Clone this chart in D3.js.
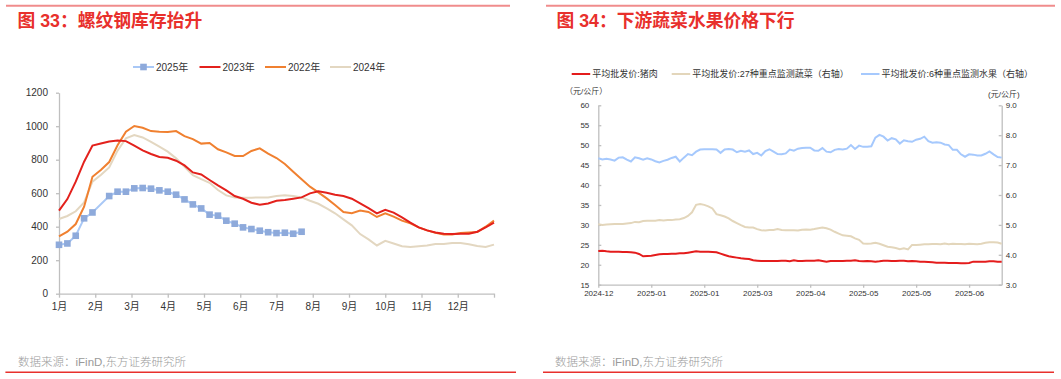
<!DOCTYPE html>
<html><head><meta charset="utf-8">
<script src="https://cdn.jsdelivr.net/npm/d3@7"></script>
<style>
body{margin:0;background:#fff;}
svg{display:block;font-family:"Liberation Sans","Noto Sans CJK SC",sans-serif;}
</style></head><body>
<svg id="c" width="1061" height="379"></svg>
<script>
// 左图：螺纹钢库存（按周，0-52周）
const months = ['1月','2月','3月','4月','5月','6月','7月','8月','9月','10月','11月','12月'];
const s2025 = [292,300,346,450,485,null,583,609,609,629,631,627,617,609,591,563,533,509,472,466,436,418,396,386,376,367,362,364,358,370];
const s2023 = [496,565,669,788,884,897,909,915,911,884,856,834,816,812,794,766,724,712,679,647,617,583,567,543,531,539,555,559,567,575,599,611,603,591,583,567,539,511,480,501,484,456,424,396,378,366,358,356,358,358,370,396,424];
const s2022 = [342,370,416,519,698,738,786,886,967,1001,991,971,967,965,971,941,923,896,900,862,844,822,822,852,868,836,810,774,728,683,639,605,569,529,488,480,496,488,458,480,460,436,420,396,378,364,354,354,362,366,368,400,436];
const s2024 = [446,464,492,545,669,708,754,854,927,947,933,907,878,848,808,758,708,684,662,619,587,575,573,573,575,575,583,587,583,575,555,537,509,480,444,408,356,324,288,316,300,283,279,283,288,297,297,302,302,295,285,279,293];

// 右图：日度价格
const dateLabels = ['2024-12','2025-01','2025-01','2025-03','2025-04','2025-05','2025-05','2025-06'];
const pork = [23.46,23.54,23.37,23.29,23.29,23.29,23.21,23.21,23.12,23.04,
  22.71,22.12,22.20,22.29,22.45,22.62,22.71,22.71,22.79,22.79,
  22.87,22.87,23.04,23.21,23.37,23.29,23.29,23.29,23.21,23.12,
  22.79,22.45,22.12,21.95,21.79,21.62,21.53,21.45,21.12,21.03,
  20.95,20.95,20.95,20.95,20.95,21.03,21.03,20.87,21.12,20.95,
  20.95,21.03,21.03,21.03,21.12,20.95,20.78,20.95,20.95,20.95,
  20.95,21.03,21.03,21.12,20.95,20.87,20.95,20.87,20.78,20.87,
  21.03,21.03,20.95,20.95,21.03,21.03,20.87,20.95,20.87,20.78,
  20.78,20.70,20.62,20.53,20.53,20.53,20.45,20.45,20.45,20.37,
  20.37,20.45,20.78,20.78,20.78,20.78,20.87,20.87,20.78,20.78];
const veg = [5.02,5.00,5.01,5.02,5.03,5.03,5.03,5.05,5.06,5.10,
  5.09,5.13,5.14,5.14,5.14,5.16,5.15,5.16,5.16,5.18,
  5.19,5.23,5.30,5.42,5.67,5.70,5.67,5.62,5.55,5.36,
  5.32,5.28,5.22,5.13,5.06,4.99,4.93,4.91,4.91,4.86,
  4.82,4.81,4.83,4.83,4.86,4.83,4.82,4.82,4.82,4.81,
  4.84,4.85,4.84,4.86,4.89,4.91,4.89,4.84,4.77,4.71,
  4.65,4.64,4.62,4.55,4.50,4.38,4.37,4.38,4.40,4.37,
  4.32,4.27,4.25,4.23,4.19,4.22,4.18,4.33,4.33,4.34,
  4.35,4.35,4.36,4.36,4.35,4.38,4.35,4.37,4.36,4.36,
  4.35,4.37,4.36,4.35,4.37,4.40,4.42,4.42,4.41,4.37];
const fruit = [7.23,7.19,7.21,7.19,7.15,7.25,7.26,7.18,7.12,7.26,
  7.23,7.18,7.23,7.19,7.13,7.09,7.14,7.18,7.24,7.28,
  7.12,7.25,7.37,7.33,7.45,7.52,7.53,7.53,7.53,7.52,
  7.41,7.52,7.54,7.52,7.43,7.48,7.45,7.49,7.37,7.41,
  7.32,7.47,7.53,7.45,7.37,7.36,7.39,7.52,7.48,7.55,
  7.57,7.58,7.58,7.49,7.48,7.57,7.45,7.43,7.51,7.54,
  7.52,7.55,7.67,7.54,7.65,7.61,7.61,7.63,7.92,8.01,
  7.95,7.82,7.90,7.86,7.72,7.83,7.80,7.78,7.85,7.88,
  7.95,7.80,7.75,7.76,7.75,7.69,7.67,7.51,7.51,7.36,
  7.28,7.36,7.35,7.32,7.32,7.38,7.46,7.36,7.27,7.25];

const svg = d3.select('#c');
svg.append('rect').attr('width',1061).attr('height',379).attr('fill','#fff');

function styleAxis(g, fs) {
  g.attr('font-family', null).attr('font-size', fs);
  g.select('.domain').attr('stroke', '#bfbfbf').attr('stroke-width', 1.3);
  g.selectAll('.tick line').attr('stroke', '#bfbfbf').attr('stroke-width', 1.3);
  g.selectAll('.tick text').attr('fill', '#333');
}

// 标题、上下分隔线、数据来源
[[6, 510, 17.5, '图 33：螺纹钢库存抬升', 18, 5.4, 516], [546, 1055, 556.5, '图 34：下游蔬菜水果价格下行', 555, 543, 1054]]
  .forEach(([l0, l1, tx, title, fx, b0, b1]) => {
    svg.append('line').attr('x1', l0).attr('x2', l1).attr('y1', 5.7).attr('y2', 5.7)
      .attr('stroke', '#f08c8c').attr('stroke-width', 2);
    svg.append('text').attr('x', tx).attr('y', 26.5).attr('fill', '#e8302c')
      .attr('font-size', 17.8).attr('font-weight', 700).text(title);
    svg.append('text').attr('x', fx).attr('y', 366).attr('fill', '#9a9a9a')
      .attr('font-size', 11.5).attr('font-weight', 300).text('数据来源：iFinD,东方证券研究所');
    svg.append('line').attr('x1', b0).attr('x2', b1).attr('y1', 372.3).attr('y2', 372.3)
      .attr('stroke', '#e8302c').attr('stroke-width', 1.5);
  });

// ---------- 左图 ----------
const xL = d3.scaleLinear().domain([0, 52]).range([59, 494]);
const yL = d3.scaleLinear().domain([0, 1200]).range([293.7, 92.7]);

svg.append('g').attr('transform', 'translate(0,293.7)')
  .call(d3.axisBottom(xL).tickValues(d3.range(13).map(k => k * 52 / 12))
    .tickFormat((d, i) => months[i] || '').tickSize(4).tickSizeOuter(0).tickPadding(5))
  .call(g => styleAxis(g, 10));
svg.append('g').attr('transform', 'translate(59,0)')
  .call(d3.axisLeft(yL).tickValues(d3.range(0, 1201, 200)).tickFormat(d3.format('d'))
    .tickSize(3).tickSizeOuter(0).tickPadding(8))
  .call(g => styleAxis(g, 10));

const lineL = d3.line().x(d => xL(d[0])).y(d => yL(d[1])).curve(d3.curveLinear);
const pts = arr => arr.map((v, i) => [i, v]).filter(d => d[1] != null);

const leftSeries = [
  { name: '2024年', data: s2024, color: '#e3d7c1' },
  { name: '2022年', data: s2022, color: '#f08030' },
  { name: '2023年', data: s2023, color: '#e3211c' },
  { name: '2025年', data: s2025, color: '#a9c8f6' }
];
leftSeries.forEach(s => {
  svg.append('path').datum(pts(s.data)).attr('d', lineL)
    .attr('fill', 'none').attr('stroke', s.color).attr('stroke-width', 2);
});
svg.append('g').selectAll('rect').data(pts(s2025)).join('rect')
  .attr('x', d => xL(d[0]) - 3.3).attr('y', d => yL(d[1]) - 3.3)
  .attr('width', 6.6).attr('height', 6.6).attr('fill', '#8eaadb');

// 左图图例
const legL = [
  { name: '2025年', color: '#a9c8f6', x: 133, marker: true },
  { name: '2023年', color: '#e3211c', x: 199.5 },
  { name: '2022年', color: '#f08030', x: 265 },
  { name: '2024年', color: '#e3d7c1', x: 330 }
];
legL.forEach(d => {
  svg.append('line').attr('x1', d.x).attr('x2', d.x + 21).attr('y1', 67).attr('y2', 67)
    .attr('stroke', d.color).attr('stroke-width', 2);
  if (d.marker) svg.append('rect').attr('x', d.x + 7.2).attr('y', 63.7).attr('width', 6.6).attr('height', 6.6).attr('fill', '#8eaadb');
  svg.append('text').attr('x', d.x + 23).attr('y', 70.5).attr('font-size', 10).attr('fill', '#333').text(d.name);
});

// ---------- 右图 ----------
const xR = d3.scaleLinear().domain([0, 99]).range([598.3, 1001.7]);
const yRL = d3.scaleLinear().domain([15, 60]).range([284.7, 105.3]);
const yRR = d3.scaleLinear().domain([3, 9]).range([284.7, 105.3]);

svg.append('g').attr('transform', 'translate(0,284.7)')
  .call(d3.axisBottom(xR).tickValues(d3.range(0, 99, 13)).tickFormat((d, i) => dateLabels[i])
    .tickSize(3).tickSizeOuter(0).tickPadding(3))
  .call(g => styleAxis(g, 8));
svg.append('g').attr('transform', 'translate(598.3,0)')
  .call(d3.axisLeft(yRL).tickValues(d3.range(15, 61, 5)).tickSize(-3).tickSizeOuter(0).tickPadding(9))
  .call(g => styleAxis(g, 8));
svg.append('g').attr('transform', 'translate(1001.7,0)')
  .call(d3.axisRight(yRR).tickValues(d3.range(3, 9.01, 1)).tickFormat(d3.format('.1f'))
    .tickSize(-3).tickSizeOuter(0).tickPadding(4))
  .call(g => styleAxis(g, 8));

svg.append('text').attr('x', 565).attr('y', 94).attr('font-size', 8).attr('fill', '#333').text('（元/公斤）');
svg.append('text').attr('x', 988).attr('y', 97).attr('font-size', 8).attr('fill', '#333').text('(元/公斤)');

const rightSeries = [
  { data: fruit, y: yRR, color: '#a6c9fd' },
  { data: veg, y: yRR, color: '#e3d6bb' },
  { data: pork, y: yRL, color: '#e41c1c' }
];
rightSeries.forEach(s => {
  svg.append('path').datum(s.data)
    .attr('d', d3.line().x((d, i) => xR(i)).y(d => s.y(d)))
    .attr('fill', 'none').attr('stroke', s.color).attr('stroke-width', 2);
});

// 右图图例
const legR = [
  { name: '平均批发价:猪肉', color: '#e41c1c', x: 571.7 },
  { name: '平均批发价:27种重点监测蔬菜（右轴）', color: '#e3d6bb', x: 671.7 },
  { name: '平均批发价:6种重点监测水果（右轴）', color: '#a6c9fd', x: 861 }
];
legR.forEach(d => {
  svg.append('line').attr('x1', d.x).attr('x2', d.x + 18.5).attr('y1', 74).attr('y2', 74)
    .attr('stroke', d.color).attr('stroke-width', 2);
  svg.append('text').attr('x', d.x + 20.6).attr('y', 77.2).attr('font-size', 9).attr('fill', '#333').text(d.name);
});
</script></body></html>
